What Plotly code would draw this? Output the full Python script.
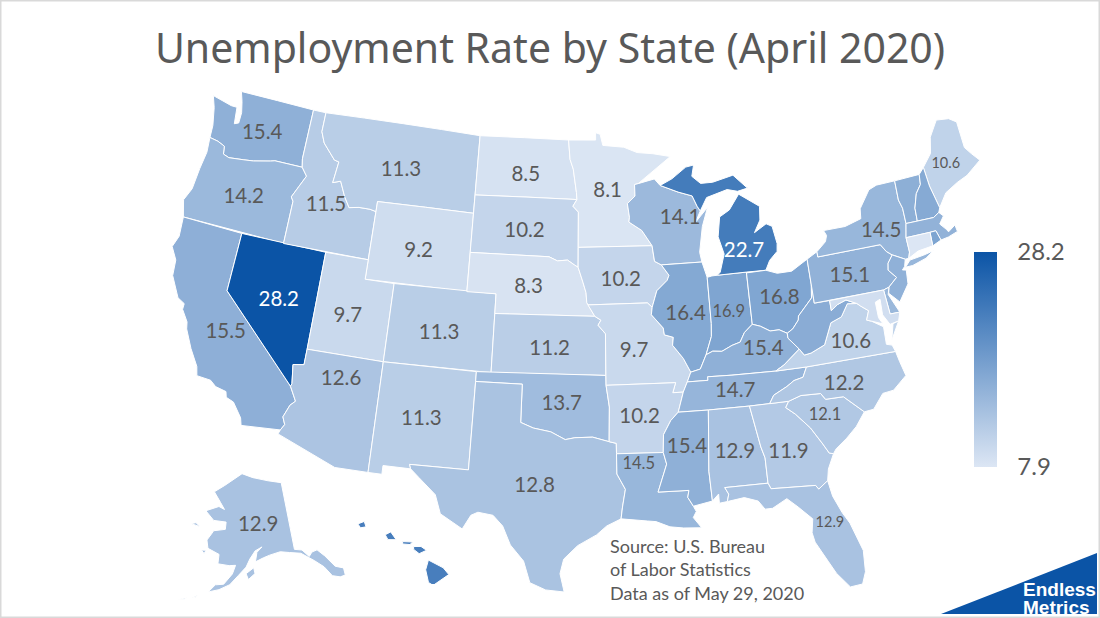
import plotly.graph_objects as go
from plotly.colors import sample_colorscale

TITLE = "Unemployment Rate by State (April 2020)"
SOURCE = "Source: U.S. Bureau<br>of Labor Statistics<br>Data as of May 29, 2020"

# rates for every state, the unlabelled ones are estimated from their fill
states = ["WA", "OR", "CA", "NV", "ID", "MT", "WY", "UT", "AZ", "CO", "NM", "ND", "SD", "NE", "KS", "OK", "TX",
          "MN", "IA", "MO", "AR", "LA", "WI", "IL", "IN", "MI", "OH", "KY", "TN", "MS", "AL", "GA", "FL", "SC",
          "NC", "VA", "WV", "PA", "NY", "ME", "AK", "HI", "VT", "NH", "MA", "RI", "CT", "NJ", "DE", "MD"]
rates = [15.4, 14.2, 15.5, 28.2, 11.5, 11.3, 9.2, 9.7, 12.6, 11.3, 11.3, 8.5, 10.2, 8.3, 11.2, 13.7, 12.8,
         8.1, 10.2, 9.7, 10.2, 14.5, 14.1, 16.4, 16.9, 22.7, 16.8, 15.4, 14.7, 15.4, 12.9, 11.9, 12.9, 12.1,
         12.2, 10.6, 15.9, 15.1, 14.5, 10.6, 12.9, 22.3, 15.6, 16.3, 15.1, 17.0, 7.9, 15.3, 14.3, 9.0]

# label anchors: West Virginia and the small north-eastern states carry no number
label_states = [s for s in states[:41] if s != "WV"]
label_lon = [-120.4, -120.5, -119.4, -116.5, -114.65, -109.7, -107.65, -111.8, -111.55, -105.65, -106.2, -100.4, -100.3,
             -99.85, -98.3, -97.45, -99.0, -94.3, -93.5, -92.75, -92.55, -92.7, -89.1, -89.2, -86.3, -84.8, -82.8, -84.3,
             -86.4, -89.7, -86.8, -83.55, -81.7, -81.0, -79.5, -78.6, -77.85, -75.1, -69.45, -150.8]
label_lat = [47.2, 43.75, 36.9, 39.1, 44.3, 46.75, 42.75, 39.0, 35.75, 38.75, 34.3, 47.1, 44.2, 41.4, 38.3, 35.5, 31.3,
             46.3, 41.8, 38.15, 34.8, 32.4, 44.8, 39.9, 39.8, 42.8, 40.2, 37.75, 35.8, 33.15, 32.7, 32.4, 28.55, 34.0,
             35.4, 37.4, 40.7, 42.6, 45.15, 64.1]
small_labels = ["IN", "LA", "SC"]
tiny_labels = ["ME", "FL"]
white_labels = ["NV", "MI"]

# state outlines as lon/lat rings, simplified by hand
SHAPES = {
    "WA": [[(-122.76, 49), (-117.03, 49), (-117.04, 46.42), (-116.92, 46), (-118.98, 46), (-119.3, 45.93), (-120.5, 45.72), (-121.2, 45.65), (-122.3, 45.55), (-122.75, 45.65), (-122.85, 46.05), (-123.4, 46.2), (-124.05, 46.27), (-124.1, 46.9), (-124.4, 47.8), (-124.73, 48.38), (-123.2, 48.15), (-122.75, 48.15), (-122.6, 47.3), (-122.3, 47.4), (-122.3, 47.95), (-122.5, 48.5)]],
    "OR": [[(-124.05, 46.27), (-123.4, 46.2), (-122.85, 46.05), (-122.75, 45.65), (-122.3, 45.55), (-121.2, 45.65), (-120.5, 45.72), (-119.3, 45.93), (-118.98, 46), (-116.92, 46), (-116.47, 45.6), (-116.85, 45), (-117.22, 44.4), (-117.03, 44.2), (-117.03, 42), (-124.21, 42), (-124.55, 42.84), (-124.2, 43.5), (-124.1, 44.6), (-123.95, 45.5)]],
    "CA": [[(-124.21, 42), (-120, 42), (-120, 39), (-114.63, 35), (-114.14, 34.3), (-114.43, 34.05), (-114.72, 33.4), (-114.52, 33.03), (-114.72, 32.72), (-117.12, 32.53), (-117.25, 32.9), (-117.9, 33.6), (-118.4, 33.75), (-118.5, 34.03), (-119.2, 34.15), (-119.6, 34.4), (-120.5, 34.45), (-120.65, 34.9), (-121.3, 35.7), (-121.9, 36.6), (-122, 36.95), (-122.5, 37.5), (-122.5, 37.8), (-123, 38), (-123.75, 39), (-123.85, 39.8), (-124.35, 40.4), (-124.1, 41)]],
    "NV": [[(-120, 42), (-114.04, 42), (-114.04, 37), (-114.05, 36.2), (-114.74, 36.1), (-114.57, 35.14), (-114.63, 35), (-120, 39)]],
    "ID": [[(-117.03, 49), (-116.05, 49), (-116.05, 48), (-115.7, 47.45), (-114.7, 46.7), (-114.35, 46.65), (-114.5, 45.55), (-113.95, 45.7), (-113.45, 44.95), (-113, 44.45), (-112.3, 44.55), (-111.5, 44.55), (-111.05, 44.48), (-111.05, 42), (-117.03, 42), (-117.03, 44.2), (-117.22, 44.4), (-116.85, 45), (-116.47, 45.6), (-116.92, 46), (-117.04, 46.42)]],
    "MT": [[(-116.05, 49), (-104.05, 49), (-104.05, 45), (-111.05, 45), (-111.05, 44.48), (-111.5, 44.55), (-112.3, 44.55), (-113, 44.45), (-113.45, 44.95), (-113.95, 45.7), (-114.5, 45.55), (-114.35, 46.65), (-114.7, 46.7), (-115.7, 47.45), (-116.05, 48)]],
    "WY": [[(-111.05, 45), (-104.05, 45), (-104.05, 41), (-111.05, 41)]],
    "UT": [[(-114.04, 42), (-111.05, 42), (-111.05, 41), (-109.05, 41), (-109.05, 37), (-114.04, 37)]],
    "CO": [[(-109.05, 41), (-102.05, 41), (-102.05, 37), (-109.05, 37)]],
    "AZ": [[(-114.04, 37), (-109.05, 37), (-109.05, 31.33), (-111.07, 31.33), (-114.81, 32.5), (-114.72, 32.72), (-114.52, 33.03), (-114.72, 33.4), (-114.43, 34.05), (-114.14, 34.3), (-114.63, 35), (-114.57, 35.14), (-114.74, 36.1), (-114.05, 36.2)]],
    "NM": [[(-109.05, 37), (-103, 37), (-103.04, 32), (-106.62, 32), (-106.53, 31.78), (-108.21, 31.78), (-108.21, 31.33), (-109.05, 31.33)]],
    "ND": [[(-104.05, 49), (-97.23, 49), (-97.1, 48), (-96.85, 47.5), (-96.6, 46.3), (-96.56, 45.94), (-104.05, 45.94)]],
    "SD": [[(-104.05, 45.94), (-96.56, 45.94), (-96.85, 45.6), (-96.45, 45.3), (-96.45, 43.5), (-96.45, 42.49), (-96.7, 42.6), (-97.2, 42.85), (-97.9, 42.8), (-98.5, 43), (-104.05, 43)]],
    "NE": [[(-104.05, 43), (-98.5, 43), (-97.9, 42.8), (-97.2, 42.85), (-96.7, 42.6), (-96.45, 42.49), (-96.1, 41.7), (-95.9, 41.2), (-95.85, 40.7), (-95.31, 40), (-102.05, 40), (-102.05, 41), (-104.05, 41)]],
    "KS": [[(-102.05, 40), (-95.31, 40), (-94.9, 39.8), (-95.1, 39.55), (-94.61, 39.11), (-94.62, 37), (-102.05, 37)]],
    "OK": [[(-103, 37), (-94.62, 37), (-94.62, 36.5), (-94.43, 35.4), (-94.48, 33.64), (-95.5, 33.88), (-96.6, 33.85), (-97.2, 33.75), (-98.1, 34.13), (-99.2, 34.3), (-100, 34.56), (-100, 36.5), (-103, 36.5)]],
    "TX": [[(-103, 36.5), (-100, 36.5), (-100, 34.56), (-99.2, 34.3), (-98.1, 34.13), (-97.2, 33.75), (-96.6, 33.85), (-95.5, 33.88), (-94.48, 33.64), (-94.04, 33.55), (-94.04, 33.02), (-94.04, 31.99), (-93.55, 31.2), (-93.75, 30.3), (-93.85, 29.7), (-94.7, 29.35), (-95.3, 28.9), (-96.4, 28.35), (-97.2, 27.65), (-97.4, 26.9), (-97.15, 25.96), (-98.2, 26.05), (-99.1, 26.4), (-99.5, 27.5), (-100.3, 28.3), (-100.8, 29.25), (-101.4, 29.77), (-102.3, 29.88), (-102.7, 29.7), (-103.15, 28.97), (-104.5, 29.65), (-104.9, 30.6), (-106, 31.4), (-106.53, 31.78), (-106.62, 32), (-103.04, 32)]],
    "MN": [[(-97.23, 49), (-95.15, 49), (-95.15, 49.38), (-94.8, 49.3), (-94.6, 48.72), (-93, 48.6), (-92, 48.3), (-90.8, 48.2), (-89.5, 48), (-92.02, 46.7), (-92.29, 46.66), (-92.29, 46.07), (-92.87, 45.7), (-92.75, 45), (-92.8, 44.75), (-91.9, 44.3), (-91.22, 43.5), (-96.45, 43.5), (-96.45, 45.3), (-96.85, 45.6), (-96.56, 45.94), (-96.6, 46.3), (-96.85, 47.5), (-97.1, 48)]],
    "IA": [[(-96.45, 43.5), (-91.22, 43.5), (-91.1, 42.7), (-90.64, 42.5), (-90.15, 41.95), (-90.3, 41.7), (-91.05, 41.2), (-91.42, 40.38), (-91.73, 40.61), (-95.77, 40.58), (-95.85, 40.7), (-95.9, 41.2), (-96.1, 41.7), (-96.45, 42.49)]],
    "MO": [[(-95.77, 40.58), (-91.73, 40.61), (-91.42, 40.38), (-91.5, 40), (-90.75, 39.3), (-90.7, 38.95), (-90.12, 38.8), (-90.2, 38.4), (-89.55, 37.7), (-89.13, 36.98), (-89.4, 36.5), (-89.7, 36), (-90.37, 36), (-90.15, 36.5), (-94.62, 36.5), (-94.62, 37), (-94.61, 39.11), (-95.1, 39.55), (-94.9, 39.8), (-95.31, 40)]],
    "AR": [[(-94.62, 36.5), (-90.15, 36.5), (-90.37, 36), (-89.7, 36), (-90.1, 35), (-90.6, 34.6), (-91.1, 33.9), (-91.17, 33), (-94.04, 33.02), (-94.04, 33.55), (-94.48, 33.64), (-94.43, 35.4)]],
    "LA": [[(-94.04, 33.02), (-91.17, 33), (-91, 32.4), (-91.6, 31), (-89.75, 31), (-89.85, 30.65), (-89.55, 30.18), (-89.4, 29.9), (-89.6, 29.6), (-89.15, 29.05), (-90.2, 29.1), (-91, 29.2), (-91.8, 29.5), (-92.3, 29.55), (-93.85, 29.7), (-93.75, 30.3), (-93.55, 31.2), (-94.04, 31.99)]],
    "MS": [[(-90.1, 35), (-88.2, 35), (-88.47, 31.9), (-88.4, 30.37), (-89.55, 30.18), (-89.85, 30.65), (-89.75, 31), (-91.6, 31), (-91, 32.4), (-91.17, 33), (-91.1, 33.9), (-90.6, 34.6)]],
    "AL": [[(-88.2, 35), (-85.6, 35), (-85.18, 32.87), (-85, 32.3), (-85, 31), (-87.6, 31), (-87.4, 30.65), (-87.52, 30.28), (-88, 30.23), (-88, 30.7), (-88.4, 30.37), (-88.47, 31.9)]],
    "GA": [[(-85.6, 35), (-83.11, 35), (-83.35, 34.7), (-82.8, 34.3), (-82, 33.5), (-81.4, 32.6), (-81.1, 32.1), (-80.85, 32.03), (-81.3, 31.3), (-81.45, 30.72), (-82.05, 30.36), (-82.2, 30.57), (-84.86, 30.7), (-85, 31), (-85, 32.3), (-85.18, 32.87)]],
    "FL": [[(-87.6, 31), (-85, 31), (-84.86, 30.7), (-82.2, 30.57), (-82.05, 30.36), (-81.45, 30.72), (-81.3, 29.9), (-80.9, 29), (-80.55, 28.4), (-80.05, 26.9), (-80.13, 25.8), (-80.4, 25.2), (-81.1, 25.15), (-81.75, 25.95), (-82.1, 26.6), (-82.7, 27.7), (-82.8, 28.2), (-82.65, 28.9), (-83.4, 29.6), (-84, 30.1), (-84.9, 29.7), (-85.35, 29.7), (-85.7, 30.15), (-86.5, 30.4), (-87.52, 30.28), (-87.4, 30.65)]],
    "SC": [[(-83.11, 35), (-82.3, 35.2), (-81.05, 35.15), (-80.8, 34.82), (-79.67, 34.8), (-78.55, 33.86), (-79.2, 33.2), (-79.9, 32.7), (-80.65, 32.25), (-80.85, 32.03), (-81.1, 32.1), (-81.4, 32.6), (-82, 33.5), (-82.8, 34.3), (-83.35, 34.7)]],
    "NC": [[(-84.32, 35), (-83.11, 35), (-82.3, 35.2), (-81.05, 35.15), (-80.8, 34.82), (-79.67, 34.8), (-78.55, 33.86), (-77.95, 33.9), (-77.2, 34.6), (-76.5, 34.65), (-75.55, 35.25), (-75.75, 36), (-75.87, 36.55), (-81.68, 36.59), (-82, 36.1), (-82.6, 36), (-83.1, 35.75), (-84, 35.4)]],
    "TN": [[(-90.1, 35), (-88.2, 35), (-85.6, 35), (-84.32, 35), (-84, 35.4), (-83.1, 35.75), (-82.6, 36), (-82, 36.1), (-81.68, 36.59), (-83.68, 36.6), (-86.5, 36.65), (-88.07, 36.68), (-88.07, 36.5), (-89.4, 36.5), (-89.7, 36)]],
    "KY": [[(-89.4, 36.5), (-88.07, 36.5), (-88.07, 36.68), (-86.5, 36.65), (-83.68, 36.6), (-83.1, 36.85), (-81.97, 37.54), (-82.6, 38.17), (-82.6, 38.42), (-83.1, 38.65), (-83.7, 38.65), (-84.3, 38.95), (-84.82, 39.1), (-85.4, 38.73), (-85.75, 38.27), (-86.3, 38.15), (-87, 37.9), (-87.6, 37.95), (-88.05, 37.8), (-88.5, 37.1), (-89.13, 36.98)]],
    "IL": [[(-90.64, 42.5), (-87.8, 42.5), (-87.53, 41.7), (-87.53, 39.35), (-87.6, 38.7), (-88.05, 37.8), (-88.5, 37.1), (-89.13, 36.98), (-89.55, 37.7), (-90.2, 38.4), (-90.12, 38.8), (-90.7, 38.95), (-90.75, 39.3), (-91.5, 40), (-91.42, 40.38), (-91.05, 41.2), (-90.3, 41.7), (-90.15, 41.95)]],
    "IN": [[(-87.53, 41.7), (-87.2, 41.75), (-86.82, 41.76), (-84.8, 41.76), (-84.82, 39.1), (-85.4, 38.73), (-85.75, 38.27), (-86.3, 38.15), (-87, 37.9), (-87.6, 37.95), (-88.05, 37.8), (-87.6, 38.7), (-87.53, 39.35)]],
    "OH": [[(-84.8, 41.72), (-83.45, 41.73), (-82.7, 41.5), (-81.7, 41.5), (-80.52, 41.98), (-80.52, 40.64), (-80.65, 40), (-81.7, 39.2), (-81.75, 39), (-82.2, 38.6), (-82.6, 38.42), (-83.1, 38.65), (-83.7, 38.65), (-84.3, 38.95), (-84.82, 39.1)]],
    "MI": [[(-86.82, 41.76), (-84.8, 41.76), (-83.45, 41.73), (-83.1, 42.2), (-82.5, 42.6), (-82.42, 43), (-82.6, 43.9), (-83, 44.07), (-83.9, 43.7), (-83.4, 44.3), (-83.3, 45), (-84.7, 45.75), (-85.5, 45), (-86.25, 44.7), (-86.5, 43.7), (-86.2, 42.8), (-86.6, 41.9)],
           [(-90.4, 46.55), (-89.1, 46.15), (-88.1, 45.9), (-87.8, 45.35), (-87.6, 45.1), (-87.05, 45.75), (-85.5, 46.05), (-84.75, 45.9), (-84, 46), (-84.95, 46.75), (-86.5, 46.5), (-87.4, 46.5), (-88, 46.9), (-87.8, 47.47), (-88.4, 47.4), (-89.5, 46.85)]],
    "WI": [[(-92.29, 46.66), (-92.02, 46.7), (-90.8, 46.9), (-90.4, 46.55), (-89.1, 46.15), (-88.1, 45.9), (-87.8, 45.35), (-87.6, 45.1), (-88, 44.55), (-87.05, 45.25), (-87.55, 44.3), (-87.9, 43), (-87.8, 42.5), (-90.64, 42.5), (-91.1, 42.7), (-91.22, 43.5), (-91.9, 44.3), (-92.8, 44.75), (-92.75, 45), (-92.87, 45.7), (-92.29, 46.07)]],
    "PA": [[(-80.52, 41.98), (-79.76, 42.27), (-79.76, 42), (-75.35, 42), (-75.05, 41.6), (-74.7, 41.36), (-75.1, 41), (-75.2, 40.65), (-74.75, 40.2), (-75.4, 39.8), (-75.79, 39.72), (-80.52, 39.72)]],
    "NY": [[(-79.76, 42.27), (-79.05, 42.7), (-78.9, 43), (-79.05, 43.27), (-77.5, 43.27), (-76.3, 43.5), (-76.2, 44), (-75.3, 44.85), (-74.7, 45), (-73.34, 45), (-73.4, 44), (-73.25, 43.55), (-73.27, 42.75), (-73.5, 42.05), (-73.5, 41.3), (-73.65, 41), (-73.9, 41), (-74.7, 41.36), (-75.05, 41.6), (-75.35, 42), (-79.76, 42)],
           [(-74, 40.6), (-73.6, 40.9), (-72.6, 40.98), (-71.9, 41.07), (-72.5, 40.8), (-73.5, 40.6)]],
    "NJ": [[(-74.7, 41.36), (-73.9, 41), (-74.05, 40.65), (-74.25, 40.5), (-74, 40.45), (-74.1, 39.75), (-74.9, 38.95), (-75.5, 39.5), (-75.4, 39.8), (-74.75, 40.2), (-75.2, 40.65), (-75.1, 41)]],
    "DE": [[(-75.79, 39.72), (-75.4, 39.8), (-75.55, 39.45), (-75.05, 38.45), (-75.7, 38.46)]],
    "MD": [[(-79.48, 39.72), (-75.79, 39.72), (-75.7, 38.46), (-75.05, 38.45), (-75.25, 38.03), (-75.85, 37.95), (-76.2, 38.5), (-76.15, 39.3), (-76.5, 39.2), (-76.5, 38.4), (-76.3, 38.05), (-77, 38.3), (-77.3, 38.4), (-77.05, 38.85), (-77.5, 39.15), (-77.72, 39.32), (-78.4, 39.6), (-79, 39.45), (-79.48, 39.2)]],
    "VA": [[(-83.68, 36.6), (-81.68, 36.59), (-75.87, 36.55), (-76, 36.9), (-76.35, 37), (-76.3, 37.9), (-77, 38.3), (-77.3, 38.4), (-77.05, 38.85), (-77.5, 39.15), (-77.72, 39.32), (-78.35, 39.4), (-78.9, 38.8), (-79.65, 38.6), (-80.3, 37.55), (-81.25, 37.25), (-81.7, 37.2), (-81.97, 37.54), (-83.1, 36.85)],
           [(-75.25, 38.03), (-75.95, 37.15), (-75.65, 37.95)]],
    "WV": [[(-80.52, 40.64), (-80.52, 39.72), (-79.48, 39.72), (-79.48, 39.2), (-79, 39.45), (-78.4, 39.6), (-77.72, 39.32), (-78.35, 39.4), (-78.9, 38.8), (-79.65, 38.6), (-80.3, 37.55), (-81.25, 37.25), (-81.7, 37.2), (-81.97, 37.54), (-82.6, 38.17), (-82.6, 38.42), (-82.2, 38.6), (-81.75, 39), (-81.7, 39.2), (-80.65, 40)]],
    "CT": [[(-73.5, 42.05), (-71.8, 42.02), (-71.85, 41.32), (-72.9, 41.25), (-73.65, 41), (-73.5, 41.3)]],
    "RI": [[(-71.8, 42.02), (-71.38, 42.02), (-71.2, 41.5), (-71.85, 41.32)]],
    "MA": [[(-73.5, 42.05), (-73.27, 42.75), (-71.3, 42.7), (-70.85, 42.88), (-70.6, 42.65), (-71, 42.3), (-70.65, 41.95), (-70.55, 41.8), (-70, 42.05), (-69.95, 41.7), (-70.65, 41.55), (-71.2, 41.5), (-71.38, 42.02), (-71.8, 42.02)]],
    "VT": [[(-73.34, 45), (-71.5, 45.01), (-71.6, 44.5), (-72.05, 44.1), (-72.4, 43.4), (-72.46, 42.73), (-73.27, 42.75), (-73.25, 43.55), (-73.4, 44)]],
    "NH": [[(-71.5, 45.01), (-71.08, 45.3), (-71, 44.3), (-70.7, 43.1), (-70.85, 42.88), (-71.3, 42.7), (-72.46, 42.73), (-72.4, 43.4), (-72.05, 44.1), (-71.6, 44.5)]],
    "ME": [[(-71.08, 45.3), (-70.3, 45.9), (-70, 46.7), (-69.22, 47.46), (-68.3, 47.35), (-67.8, 47.07), (-67.8, 45.7), (-67.45, 45.3), (-67, 44.85), (-68.2, 44.3), (-69, 44.1), (-70, 43.75), (-70.7, 43.1), (-71, 44.3)]],
    "AK": [[(-141, 69.65), (-141, 60.3), (-139, 60), (-137.5, 58.9), (-136.5, 59.4), (-135, 59.5), (-133.5, 58.4), (-131.8, 56.6), (-130, 56), (-130.2, 55), (-131.5, 55), (-133.2, 55.5), (-134.5, 57), (-136.5, 58.2), (-139.5, 59.6), (-142.5, 60), (-145, 60.3), (-148, 60), (-149.8, 59.7), (-152, 59.2), (-151.5, 60.5), (-150, 61.2), (-152, 60.7), (-153.5, 59.6), (-154.5, 58.5), (-156.5, 57.3), (-158.5, 56), (-161, 55.2), (-163.5, 54.7), (-162, 55.8), (-160, 56), (-158, 57.5), (-157.3, 58.7), (-159, 58.6), (-162, 58.7), (-162, 60), (-165.3, 60.6), (-166, 61.7), (-165, 62.6), (-164.5, 63.1), (-161, 63.5), (-161, 64.5), (-165, 64.5), (-168.1, 65.6), (-164, 66.5), (-162, 66.2), (-163.7, 67.1), (-166.5, 68.4), (-163, 69.5), (-156.5, 71.35), (-152, 70.8), (-146, 70.2)],
           [(-154.5, 57.6), (-152.5, 58.4), (-152.2, 57.6), (-153.9, 56.8)],
           [(-171.7, 63.4), (-168.8, 63.3), (-170.3, 63.7)],
           [(-167, 60.2), (-165.7, 60.3), (-166.1, 59.8)],
           [(-166.9, 53.5), (-165.7, 54.1), (-166.2, 53.7)],
           [(-170, 52.9), (-168.2, 53.4), (-168.7, 53.1)]],
    "HI": [[(-155.9, 20.25), (-155.1, 19.85), (-154.8, 19.5), (-155.65, 18.95), (-155.9, 19.1), (-156.05, 19.75)],
           [(-156.7, 20.95), (-156.3, 20.95), (-156, 20.75), (-156.4, 20.58), (-156.7, 20.8)],
           [(-157.3, 21.2), (-156.75, 21.18), (-156.9, 21.05), (-157.3, 21.08)],
           [(-158.25, 21.55), (-157.95, 21.7), (-157.65, 21.3), (-158.1, 21.3)],
           [(-159.75, 22.1), (-159.4, 22.23), (-159.3, 21.95), (-159.6, 21.9)]],
}

RATE_MIN, RATE_MAX = 7.9, 28.2
SCALE = [[0, "#DCE6F4"], [1, "#0B54A6"]]
W, H = 1100, 618

# the lower 48 and Hawaii use albers usa, Hawaii only nudged
GEO_BOX = (88, 1063, 84, 600)
GEO_SCALE = 1.046
GEO_SHIFT = {"geo": (0, 0), "geo3": (7, -13)}
# albers usa cuts off the Alaska peninsula, so Alaska gets its own conic box
AK_BOX = (148, 348, 470, 613)
AK_SCALE = 1.1
STATE_GEO = {"AK": "geo2", "HI": "geo3"}


def clockwise(ring):
    # d3 fills the other side of the globe if the ring runs the wrong way
    area = sum(a[0] * b[1] - b[0] * a[1] for a, b in zip(ring, ring[1:] + ring[:1]))
    return ring if area < 0 else ring[::-1]


def geo_domain(box, dx=0, dy=0):
    x0, x1, y0, y1 = box
    return dict(x=[(x0 + dx) / W, (x1 + dx) / W], y=[1 - (y1 + dy) / H, 1 - (y0 + dy) / H])


HIDDEN = dict(showland=False, showlakes=False, showcountries=False, showsubunits=False, showcoastlines=False,
              showframe=False, bgcolor="rgba(0,0,0,0)")


def geo_layout(name):
    dx, dy = GEO_SHIFT[name]
    return dict(scope="usa", projection_type="albers usa", projection_scale=GEO_SCALE,
                domain=geo_domain(GEO_BOX, dx, dy), **HIDDEN)


def label_trace(names, lons, lats, subplot):
    return go.Scattergeo(
        lon=lons, lat=lats, mode="text", geo=subplot,
        text=[f"{rate_by_state[s]:.1f}" for s in names],
        textposition="middle center",
        textfont=dict(
            family="Lato",
            size=[14.5 if s in tiny_labels else 16.5 if s in small_labels else 20.5 for s in names],
            color=["white" if s in white_labels else "#595959" for s in names],
        ),
        hoverinfo="skip", showlegend=False,
    )


rate_by_state = dict(zip(states, rates))
fig = go.Figure()

for state in states:
    t = (rate_by_state[state] - RATE_MIN) / (RATE_MAX - RATE_MIN)
    colour = sample_colorscale(SCALE, t)[0]
    for ring in SHAPES[state]:
        ring = clockwise(ring)
        ring = ring + ring[:1]
        fig.add_trace(go.Scattergeo(
            lon=[p[0] for p in ring], lat=[p[1] for p in ring], geo=STATE_GEO.get(state, "geo"),
            mode="lines", fill="toself", fillcolor=colour,
            line=dict(color="white", width=1), hoverinfo="skip", showlegend=False,
        ))

fig.add_trace(label_trace(label_states[:-1], label_lon[:-1], label_lat[:-1], "geo"))
fig.add_trace(label_trace(label_states[-1:], label_lon[-1:], label_lat[-1:], "geo2"))

# only here for the colour bar
fig.add_trace(go.Scattergeo(
    lon=label_lon[:-1], lat=label_lat[:-1], mode="markers",
    marker=dict(
        size=1, opacity=0, color=[rate_by_state[s] for s in label_states[:-1]], cmin=RATE_MIN, cmax=RATE_MAX,
        colorscale=SCALE,
        colorbar=dict(
            tickvals=[RATE_MIN, RATE_MAX], ticktext=["7.9", "28.2"], outlinewidth=0, borderwidth=0,
            ticks="outside", ticklen=16, tickcolor="rgba(0,0,0,0)",
            thickness=23, thicknessmode="pixels", len=215, lenmode="pixels",
            x=974 / W, xanchor="left", xpad=0, y=1 - 252 / H, yanchor="top", ypad=0,
            tickfont=dict(family="Lato", size=24, color="#595959"),
        ),
    ),
    hoverinfo="skip", showlegend=False,
))

fig.update_layout(
    width=W, height=H, autosize=False,
    margin=dict(l=0, r=0, t=0, b=0),
    paper_bgcolor="white",
    title=dict(text=TITLE, x=0.5, xanchor="center", y=1 - 49 / H, yanchor="middle",
               font=dict(family="Noto Sans", size=41, color="#595959")),
    geo=geo_layout("geo"),
    geo2=dict(
        projection=dict(type="conic equal area", parallels=[55, 65], rotation=dict(lon=-154), scale=AK_SCALE),
        lonaxis=dict(range=[-178, -128]), lataxis=dict(range=[52, 72]),
        domain=geo_domain(AK_BOX), **HIDDEN,
    ),
    geo3=geo_layout("geo3"),
    annotations=[
        dict(text=SOURCE, xref="paper", yref="paper", x=608 / W, y=1 - 533 / H, xanchor="left", yanchor="top",
             align="left", showarrow=False, font=dict(family="Lato", size=18, color="#595959")),
        dict(text="<b>Endless</b>", xref="paper", yref="paper", x=1021 / W, y=1 - 589 / H,
             xanchor="left", yanchor="middle", showarrow=False,
             font=dict(family="Liberation Sans", size=19, color="white")),
        dict(text="<b>Metrics</b>", xref="paper", yref="paper", x=1021 / W, y=1 - 607 / H,
             xanchor="left", yanchor="middle", showarrow=False,
             font=dict(family="Liberation Sans", size=19, color="white")),
    ],
    shapes=[
        dict(type="path", xref="paper", yref="paper", layer="below", line_width=0, fillcolor="#0B54A6",
             path=f"M {941/W} {1-614/H} L {1097/W} {1-553/H} L {1097/W} {1-614/H} Z"),
        dict(type="rect", xref="paper", yref="paper", x0=0, x1=1, y0=0, y1=1, layer="below",
             line=dict(color="#D9D9D9", width=3)),
    ],
)

fig.write_html("out.html", config=dict(displayModeBar=False), post_script="document.body.style.margin='0'")
